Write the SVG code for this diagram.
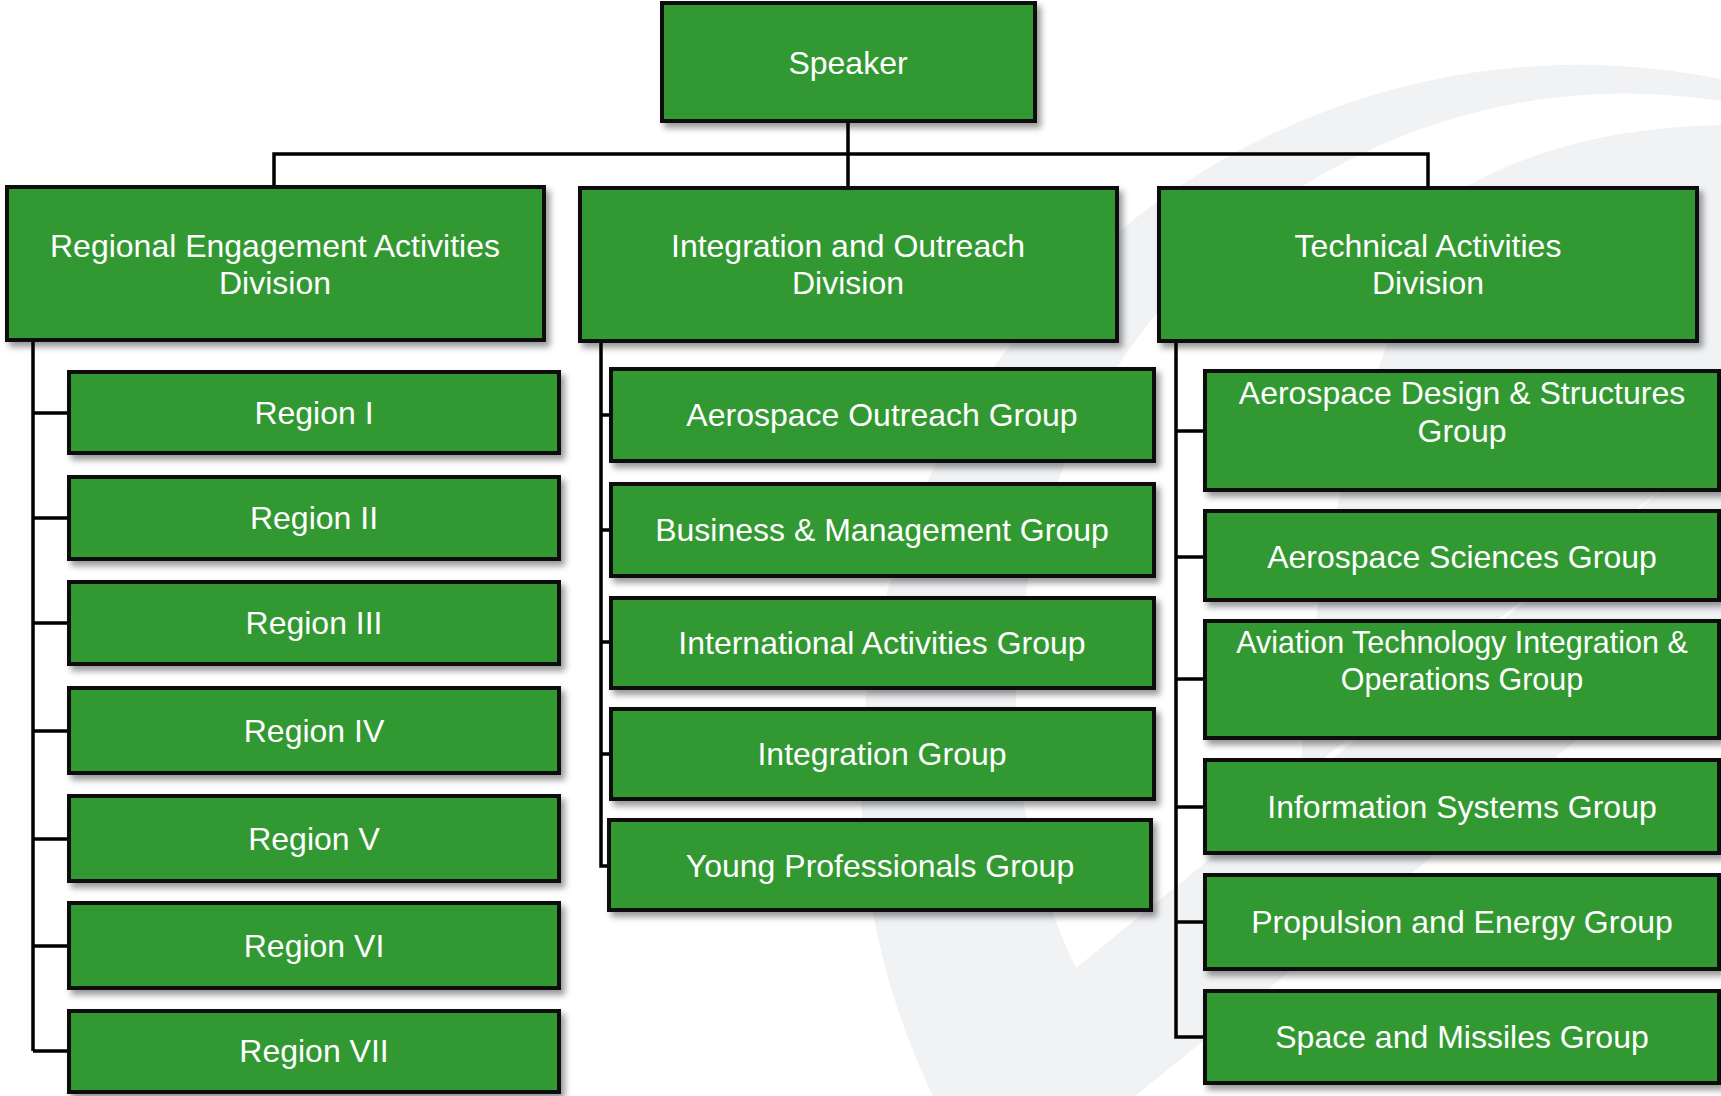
<svg xmlns="http://www.w3.org/2000/svg" width="1721" height="1096" viewBox="0 0 1721 1096">
<defs>
<style>
.box{fill:#339933;stroke:#111;stroke-width:4;filter:url(#sh)}
.t{font-family:"Liberation Sans",Arial,sans-serif;font-size:32px;fill:#fff;text-anchor:middle}
.t2{font-size:30.5px}
.ln{fill:none;stroke:#000;stroke-width:3.5}
.wm{fill:#f1f2f4}
</style>
<filter id="sh" x="-10%" y="-20%" width="125%" height="150%">
<feDropShadow dx="4" dy="5" stdDeviation="3" flood-color="#000" flood-opacity="0.4"/>
</filter>
</defs>
<rect width="1721" height="1096" fill="#fff"/>
<g id="watermark">
<path class="wm" d="M1721,79 A718,718 0 0 0 933,1096 L1135,1096 L1721,624 Z"/>
<path fill="#fff" d="M1721,101 A610,610 0 0 0 1076,968 L1721,442 Z"/>
<path class="wm" d="M1466,187 Q1570,128 1721,125 L1721,442 L1300,777 Q1320,420 1466,187 Z"/>
</g>
<g id="connectors">
<path class="ln" d="M848,121 V187 M274,187 V154 H1428 V187"/>
<path class="ln" stroke-width="4" d="M33,340 V1051 M33,413 H69 M33,518 H69 M33,623 H69 M33,731 H69 M33,839 H69 M33,946 H69 M33,1051 H69"/>
<path class="ln" stroke-width="5.5" d="M601,341 V866 H609 M601,415 H611 M601,530 H611 M601,642 H611 M601,754 H611"/>
<path class="ln" d="M1176,341 V1037 H1205 M1176,431 H1205 M1176,557 H1205 M1176,679 H1205 M1176,807 H1205 M1176,922 H1205"/>
</g>
<g id="speaker"><rect class="box" x="662" y="3" width="373" height="118"/><text class="t" x="848" y="74">Speaker</text></g>
<g id="div-regional"><rect class="box" x="7" y="187" width="537" height="153"/><text class="t" x="275" y="257">Regional Engagement Activities</text><text class="t" x="275" y="294">Division</text></g>
<g id="div-integration"><rect class="box" x="580" y="188" width="537" height="153"/><text class="t" x="848" y="257">Integration and Outreach</text><text class="t" x="848" y="294">Division</text></g>
<g id="div-technical"><rect class="box" x="1159" y="188" width="538" height="153"/><text class="t" x="1428" y="257">Technical Activities</text><text class="t" x="1428" y="294">Division</text></g>
<g id="region-1"><rect class="box" x="69" y="372" width="490" height="81"/><text class="t" x="314" y="424">Region I</text></g>
<g id="region-2"><rect class="box" x="69" y="477" width="490" height="82"/><text class="t" x="314" y="529">Region II</text></g>
<g id="region-3"><rect class="box" x="69" y="582" width="490" height="82"/><text class="t" x="314" y="634">Region III</text></g>
<g id="region-4"><rect class="box" x="69" y="688" width="490" height="85"/><text class="t" x="314" y="742">Region IV</text></g>
<g id="region-5"><rect class="box" x="69" y="796" width="490" height="85"/><text class="t" x="314" y="850">Region V</text></g>
<g id="region-6"><rect class="box" x="69" y="903" width="490" height="85"/><text class="t" x="314" y="957">Region VI</text></g>
<g id="region-7"><rect class="box" x="69" y="1011" width="490" height="81"/><text class="t" x="314" y="1062">Region VII</text></g>
<g id="aog"><rect class="box" x="611" y="369" width="543" height="92"/><text class="t" x="882" y="426">Aerospace Outreach Group</text></g>
<g id="bmg"><rect class="box" x="611" y="484" width="543" height="92"/><text class="t" x="882" y="541">Business &amp; Management Group</text></g>
<g id="iag"><rect class="box" x="611" y="598" width="543" height="90"/><text class="t" x="882" y="654">International Activities Group</text></g>
<g id="ig"><rect class="box" x="611" y="709" width="543" height="90"/><text class="t" x="882" y="765">Integration Group</text></g>
<g id="ypg"><rect class="box" x="609" y="820" width="542" height="90"/><text class="t" x="880" y="877">Young Professionals Group</text></g>
<g id="adsg"><rect class="box" x="1205" y="371" width="514" height="119"/><text class="t" x="1462" y="404">Aerospace Design &amp; Structures</text><text class="t" x="1462" y="442">Group</text></g>
<g id="asg"><rect class="box" x="1205" y="511" width="514" height="89"/><text class="t" x="1462" y="568">Aerospace Sciences Group</text></g>
<g id="atiog"><rect class="box" x="1205" y="621" width="514" height="117"/><text class="t t2" x="1462" y="653">Aviation Technology Integration &amp;</text><text class="t t2" x="1462" y="690">Operations Group</text></g>
<g id="isg"><rect class="box" x="1205" y="760" width="514" height="93"/><text class="t" x="1462" y="818">Information Systems Group</text></g>
<g id="peg"><rect class="box" x="1205" y="875" width="514" height="94"/><text class="t" x="1462" y="933">Propulsion and Energy Group</text></g>
<g id="smg"><rect class="box" x="1205" y="991" width="514" height="92"/><text class="t" x="1462" y="1048">Space and Missiles Group</text></g>
</svg>
